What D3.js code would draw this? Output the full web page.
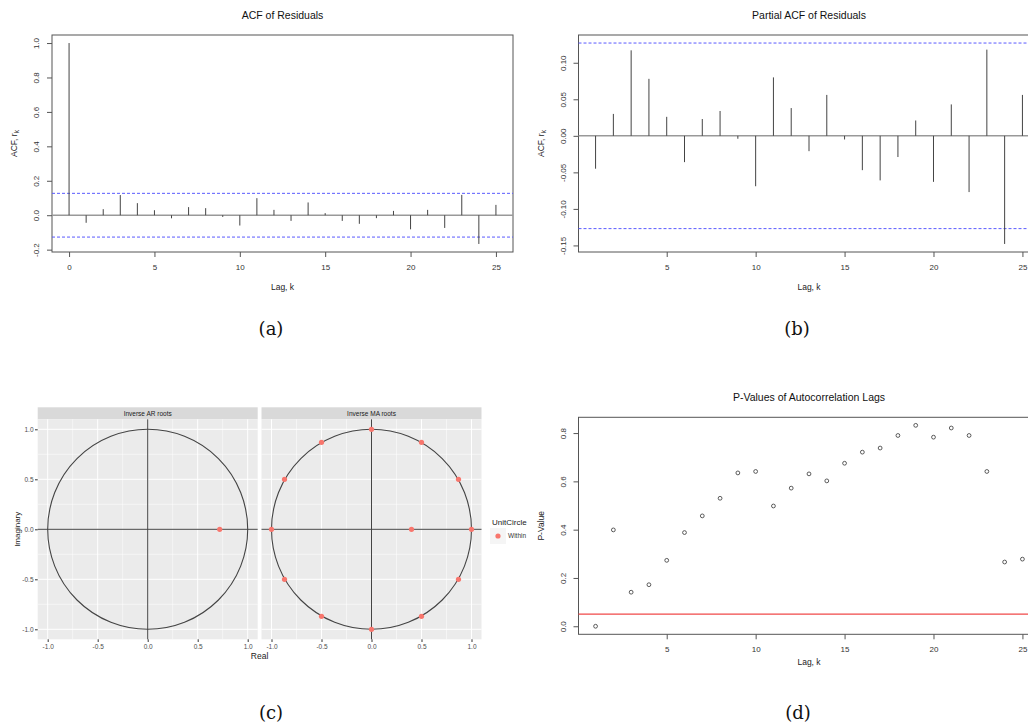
<!DOCTYPE html>
<html>
<head>
<meta charset="utf-8">
<script src="https://cdn.jsdelivr.net/npm/d3@7"></script>
<style>
body { margin: 0; background: #fff; }
text { font-family: "Liberation Sans", Arial, sans-serif; }
</style>
</head>
<body>
<div id="chart"></div>
<script>
// ---- data ----
var acfLags = [0,1,2,3,4,5,6,7,8,9,10,11,12,13,14,15,16,17,18,19,20,21,22,23,24,25];
var acfValues = [1.0, -0.044, 0.035, 0.117, 0.070, 0.029, -0.018, 0.047, 0.041, -0.010, -0.060,
                 0.099, 0.031, -0.033, 0.074, 0.012, -0.033, -0.050, -0.017, 0.025, -0.082,
                 0.031, -0.074, 0.118, -0.167, 0.060];

var pacfLags = [1,2,3,4,5,6,7,8,9,10,11,12,13,14,15,16,17,18,19,20,21,22,23,24,25];
var pacfValues = [-0.045, 0.030, 0.117, 0.078, 0.026, -0.036, 0.023, 0.034, -0.004, -0.069,
                  0.080, 0.038, -0.021, 0.056, -0.005, -0.047, -0.061, -0.029, 0.021, -0.063,
                  0.043, -0.077, 0.118, -0.148, 0.056];

var pvalLags = [1,2,3,4,5,6,7,8,9,10,11,12,13,14,15,16,17,18,19,20,21,22,23,24,25];
var pvalValues = [0.000, 0.399, 0.141, 0.172, 0.273, 0.388, 0.457, 0.530, 0.635, 0.641,
                  0.498, 0.572, 0.631, 0.602, 0.675, 0.721, 0.738, 0.790, 0.832, 0.783,
                  0.821, 0.790, 0.641, 0.266, 0.278];

var ciBound = 0.127;
var pvalCutoff = 0.05;

var acfTicksX = [0, 5, 10, 15, 20, 25];
var pacfTicksX = [5, 10, 15, 20, 25];
var acfTicksY = [-0.2, 0, 0.2, 0.4, 0.6, 0.8, 1.0];
var pacfTicksY = [-0.15, -0.10, -0.05, 0, 0.05, 0.10];
var pvalTicksY = [0, 0.2, 0.4, 0.6, 0.8];

// inverse roots (real, imaginary)
var arRootsRe = [0.72];
var arRootsIm = [0];
var maRootsRe = [0, 0.5, 0.87, 1, 0.87, 0.5, 0, -0.5, -0.87, -1, -0.87, -0.5, 0.4];
var maRootsIm = [1, 0.87, 0.5, 0, -0.5, -0.87, -1, -0.87, -0.5, 0, 0.5, 0.87, 0];
var rootTicks = [-1, -0.5, 0, 0.5, 1];
var rootMinor = [-0.75, -0.25, 0.25, 0.75];

var captions = ["(a)", "(b)", "(c)", "(d)"];

// ---- svg ----
var w = 1028, h = 725;
var svg = d3.select("#chart").append("svg")
    .attr("width", w).attr("height", h)
    .style("display", "block");
svg.append("rect").attr("width", w).attr("height", h).attr("fill", "#fff");

// base-R looking panel
function basePanel(cfg) {
    var bw = 461;
    var x = d3.scaleLinear().domain(cfg.xDomain).range([cfg.left, cfg.left + bw]);
    var y = d3.scaleLinear().domain(cfg.yDomain).range([cfg.bottom, cfg.top]);
    var g = svg.append("g");
    var cxm = cfg.left + bw / 2;

    g.append("text")
        .attr("x", cxm).attr("y", cfg.top - 20)
        .attr("dy", "0.35em")
        .attr("text-anchor", "middle")
        .style("font-size", "10.5px")
        .style("fill", "#111")
        .text(cfg.title);

    // x axis
    var xa = g.append("g")
        .attr("transform", `translate(0,${cfg.bottom})`)
        .call(d3.axisBottom(x).tickValues(cfg.xTicks).tickSize(5).tickPadding(7.5).tickFormat(d => d));
    xa.select(".domain").remove();
    xa.selectAll("line").attr("stroke", "#555");
    xa.selectAll("text").style("font-size", "8px").style("fill", "#333").style("font-family", "Liberation Sans, Arial, sans-serif");

    // y axis, labels parallel to the axis
    var ya = g.append("g")
        .attr("transform", `translate(${cfg.left},0)`)
        .call(d3.axisLeft(y).tickValues(cfg.yTicks).tickSize(5).tickFormat(cfg.yFormat));
    ya.select(".domain").remove();
    ya.selectAll("line").attr("stroke", "#555");
    ya.selectAll("text")
        .attr("transform", "rotate(-90)")
        .attr("x", 0).attr("y", -15.5).attr("dy", "0.35em")
        .attr("text-anchor", "middle")
        .style("font-size", "8px").style("fill", "#333")
        .style("font-family", "Liberation Sans, Arial, sans-serif");

    // axis titles
    g.append("text")
        .attr("x", cxm).attr("y", cfg.xLabelY).attr("dy", "0.35em")
        .attr("text-anchor", "middle")
        .style("font-size", "8.5px").style("fill", "#222")
        .text("Lag, k");

    var yl = g.append("text")
        .attr("transform", `translate(${cfg.left - 37.5},${(cfg.top + cfg.bottom) / 2}) rotate(-90)`)
        .attr("dy", "0.35em")
        .attr("text-anchor", "middle")
        .style("font-size", "8.5px").style("fill", "#222");
    if (cfg.yLabel === "acf") {
        yl.append("tspan").text("ACF, r");
        yl.append("tspan").attr("dy", "2").style("font-size", "6.5px").text("k");
    } else {
        yl.text(cfg.yLabel);
    }

    // box
    g.append("rect")
        .attr("x", cfg.left).attr("y", cfg.top)
        .attr("width", bw).attr("height", cfg.bottom - cfg.top)
        .attr("fill", "none").attr("stroke", "#555").attr("stroke-width", 1);

    return { g: g, x: x, y: y, left: cfg.left, right: cfg.left + bw };
}

function spikes(p, lags, vals, ci) {
    // zero line
    p.g.append("line")
        .attr("x1", p.left).attr("x2", p.right)
        .attr("y1", p.y(0)).attr("y2", p.y(0))
        .attr("stroke", "#999").attr("stroke-width", 1.5);
    // confidence bounds
    [ci, -ci].forEach(function (c) {
        p.g.append("line")
            .attr("x1", p.left).attr("x2", p.right)
            .attr("y1", p.y(c)).attr("y2", p.y(c))
            .attr("stroke", "#5a5aff").attr("stroke-width", 1)
            .attr("stroke-dasharray", "3,2");
    });
    p.g.selectAll(".spike")
        .data(lags)
        .enter()
        .append("line")
        .attr("class", "spike")
        .attr("x1", d => p.x(d)).attr("x2", d => p.x(d))
        .attr("y1", p.y(0))
        .attr("y2", (d, i) => p.y(vals[i]))
        .attr("stroke", "#444").attr("stroke-width", 1);
}

// (a) ACF
var pa = basePanel({
    left: 52, top: 35, bottom: 252,
    xDomain: [-1, 26], yDomain: [-0.2137, 1.0467],
    xTicks: acfTicksX, yTicks: acfTicksY, yFormat: d => d.toFixed(1),
    title: "ACF of Residuals", yLabel: "acf", xLabelY: 287.3
});
spikes(pa, acfLags, acfValues, ciBound);

// (b) PACF
var pb = basePanel({
    left: 578.5, top: 35, bottom: 252,
    xDomain: [0.04, 25.96], yDomain: [-0.159, 0.138],
    xTicks: pacfTicksX, yTicks: pacfTicksY, yFormat: d => d.toFixed(2),
    title: "Partial ACF of Residuals", yLabel: "acf", xLabelY: 287.3
});
spikes(pb, pacfLags, pacfValues, ciBound);

// (d) p-values
var pd = basePanel({
    left: 578.5, top: 417.3, bottom: 634.3,
    xDomain: [0.04, 25.96], yDomain: [-0.0333, 0.8653],
    xTicks: pacfTicksX, yTicks: pvalTicksY, yFormat: d => d.toFixed(1),
    title: "P-Values of Autocorrelation Lags", yLabel: "P-Value", xLabelY: 661.7
});
pd.g.append("line")
    .attr("x1", pd.left).attr("x2", pd.right)
    .attr("y1", pd.y(pvalCutoff)).attr("y2", pd.y(pvalCutoff))
    .attr("stroke", "#f04848").attr("stroke-width", 1.2);
pd.g.selectAll(".pt")
    .data(pvalLags)
    .enter()
    .append("circle")
    .attr("class", "pt")
    .attr("cx", d => pd.x(d))
    .attr("cy", (d, i) => pd.y(pvalValues[i]))
    .attr("r", 1.9)
    .attr("fill", "none").attr("stroke", "#333").attr("stroke-width", 0.8);

// (c) inverse roots, ggplot style
var cy = d3.scaleLinear().domain([-1.1, 1.1]).range([639.3, 419.3]);
var facets = [
    { name: "Inverse AR roots", x0: 37.7, re: arRootsRe, im: arRootsIm },
    { name: "Inverse MA roots", x0: 261.5, re: maRootsRe, im: maRootsIm }
];
var gc = svg.append("g");

facets.forEach(function (f, fi) {
    var cx = d3.scaleLinear().domain([-1.1, 1.1]).range([f.x0, f.x0 + 220]);
    var fg = gc.append("g");

    // strip
    fg.append("rect").attr("x", f.x0).attr("y", 407.3).attr("width", 220).attr("height", 12)
        .attr("fill", "#d9d9d9");
    fg.append("text").attr("x", f.x0 + 110).attr("y", 413.3).attr("dy", "0.35em")
        .attr("text-anchor", "middle").style("font-size", "6.5px").style("fill", "#1a1a1a")
        .text(f.name);

    // panel + grid
    fg.append("rect").attr("x", f.x0).attr("y", 419.3).attr("width", 220).attr("height", 220)
        .attr("fill", "#ebebeb");
    rootMinor.forEach(function (t) {
        fg.append("line").attr("x1", cx(t)).attr("x2", cx(t)).attr("y1", 419.3).attr("y2", 639.3)
            .attr("stroke", "#fff").attr("stroke-width", 0.5);
        fg.append("line").attr("x1", f.x0).attr("x2", f.x0 + 220).attr("y1", cy(t)).attr("y2", cy(t))
            .attr("stroke", "#fff").attr("stroke-width", 0.5);
    });
    rootTicks.forEach(function (t) {
        fg.append("line").attr("x1", cx(t)).attr("x2", cx(t)).attr("y1", 419.3).attr("y2", 639.3)
            .attr("stroke", "#fff").attr("stroke-width", 1);
        fg.append("line").attr("x1", f.x0).attr("x2", f.x0 + 220).attr("y1", cy(t)).attr("y2", cy(t))
            .attr("stroke", "#fff").attr("stroke-width", 1);
    });

    // reference lines and unit circle
    fg.append("line").attr("x1", cx(0)).attr("x2", cx(0)).attr("y1", 419.3).attr("y2", 639.3)
        .attr("stroke", "#444").attr("stroke-width", 1);
    fg.append("line").attr("x1", f.x0).attr("x2", f.x0 + 220).attr("y1", cy(0)).attr("y2", cy(0))
        .attr("stroke", "#444").attr("stroke-width", 1);
    fg.append("ellipse")
        .attr("cx", cx(0)).attr("cy", cy(0))
        .attr("rx", cx(1) - cx(0)).attr("ry", cy(0) - cy(1))
        .attr("fill", "none").attr("stroke", "#444").attr("stroke-width", 1.1);

    // roots
    fg.selectAll(".root")
        .data(f.re)
        .enter()
        .append("circle")
        .attr("class", "root")
        .attr("cx", d => cx(d))
        .attr("cy", (d, i) => cy(f.im[i]))
        .attr("r", 2.6)
        .attr("fill", "#f8766d");

    // x axis
    var xa = fg.append("g").attr("transform", "translate(0,639.3)")
        .call(d3.axisBottom(cx).tickValues(rootTicks).tickSize(2.7).tickPadding(2.5).tickFormat(d => d.toFixed(1)));
    xa.select(".domain").remove();
    xa.selectAll("line").attr("stroke", "#333");
    xa.selectAll("text").style("font-size", "6.5px").style("fill", "#4d4d4d")
        .style("font-family", "Liberation Sans, Arial, sans-serif");

    if (fi === 0) {
        var ya = fg.append("g").attr("transform", `translate(${f.x0},0)`)
            .call(d3.axisLeft(cy).tickValues(rootTicks).tickSize(2.7).tickPadding(1.5).tickFormat(d => d.toFixed(1)));
        ya.select(".domain").remove();
        ya.selectAll("line").attr("stroke", "#333");
        ya.selectAll("text").style("font-size", "6.5px").style("fill", "#4d4d4d")
            .style("font-family", "Liberation Sans, Arial, sans-serif");
    }
});

gc.append("text").attr("x", 259.6).attr("y", 656).attr("dy", "0.35em")
    .attr("text-anchor", "middle").style("font-size", "8.5px").style("fill", "#222").text("Real");
gc.append("text").attr("transform", "translate(17,529.3) rotate(-90)").attr("dy", "0.35em")
    .attr("text-anchor", "middle").style("font-size", "8px").style("fill", "#222").text("Imaginary");

// legend
gc.append("text").attr("x", 492).attr("y", 522).attr("dy", "0.35em")
    .style("font-size", "8px").style("fill", "#222").text("UnitCircle");
gc.append("rect").attr("x", 490).attr("y", 528).attr("width", 16).attr("height", 16).attr("fill", "#f5f5f5");
gc.append("circle").attr("cx", 498).attr("cy", 536).attr("r", 2.6).attr("fill", "#f8766d");
gc.append("text").attr("x", 508).attr("y", 536).attr("dy", "0.35em")
    .style("font-size", "6.5px").style("fill", "#333").text("Within");

// captions
var capPos = [[271, 329], [797, 329], [271, 713], [798, 713]];
svg.selectAll(".cap")
    .data(captions)
    .enter()
    .append("text")
    .attr("class", "cap")
    .attr("x", (d, i) => capPos[i][0])
    .attr("y", (d, i) => capPos[i][1])
    .attr("dy", "0.35em")
    .attr("text-anchor", "middle")
    .style("font-family", "'DejaVu Serif', 'Liberation Serif', serif")
    .style("font-size", "18px")
    .style("fill", "#111")
    .text(d => d);
</script>
</body>
</html>
